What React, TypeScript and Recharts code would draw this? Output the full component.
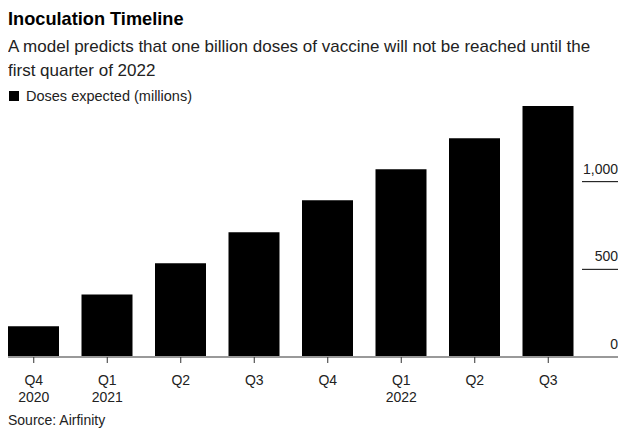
import React from 'react';
import { BarChart, Bar, XAxis, YAxis } from 'recharts';

const quarters = ['Q4', 'Q1', 'Q2', 'Q3', 'Q4', 'Q1', 'Q2', 'Q3'];
const years = ['2020', '2021', '', '', '', '2022', '', ''];
const doses = [175, 357, 535, 712, 894, 1071, 1248, 1431];
const yTicks = [0, 500, 1000];

const data = quarters.map((q, i) => ({ key: `${q}-${i}`, quarter: q, year: years[i], doses: doses[i] }));

const FONT = '"Liberation Sans", Arial, Helvetica, sans-serif';
const AXIS_W = 33;

// two-line quarter / year label
const QuarterTick = (props: any) => {
  const { x, y, payload } = props;
  const row = data[payload.index];
  return (
    <g>
      <text x={x} y={y + 20} textAnchor="middle" fontSize={14} fill="#222" fontFamily={FONT}>
        {row.quarter}
      </text>
      {row.year && (
        <text x={x} y={y + 37} textAnchor="middle" fontSize={14} fill="#222" fontFamily={FONT}>
          {row.year}
        </text>
      )}
    </g>
  );
};

// right-aligned value with a short underline; the zero tick carries the baseline on
const ValueTick = (props: any) => {
  const { x, y, payload } = props;
  const label = Number(payload.value).toLocaleString('en-US');
  return (
    <g>
      <text x={x + AXIS_W} y={y - 8} textAnchor="end" fontSize={14} fill="#222" fontFamily={FONT}>
        {label}
      </text>
      {payload.value === 0 ? (
        <line x1={x - 1} x2={x + AXIS_W} y1={y} y2={y} stroke="#999" strokeWidth={2} />
      ) : (
        <line x1={x - 3} x2={x + AXIS_W} y1={y} y2={y} stroke="#000" strokeWidth={1} />
      )}
    </g>
  );
};

export default function App() {
  return (
    <div style={{ position: 'relative', width: 626, height: 425, fontFamily: FONT, color: '#000' }}>
      <div style={{ position: 'absolute', left: 0, top: 1, fontSize: 18.2, fontWeight: 700, lineHeight: '20px', whiteSpace: 'nowrap' }}>
        Inoculation Timeline
      </div>
      <div style={{ position: 'absolute', left: 0, top: 27, fontSize: 17, lineHeight: '24px', color: '#222', whiteSpace: 'nowrap' }}>
        <div>A model predicts that one billion doses of vaccine will not be reached until the</div>
        <div>first quarter of 2022</div>
      </div>
      <div style={{ position: 'absolute', left: 1, top: 80, fontSize: 14.5, lineHeight: '16px', color: '#222', display: 'flex', alignItems: 'center', whiteSpace: 'nowrap' }}>
        <span style={{ display: 'inline-block', width: 10, height: 10, background: '#000', marginRight: 7 }} />
        Doses expected (millions)
      </div>

      <div style={{ position: 'absolute', left: -11, top: 86 }}>
        <BarChart width={621} height={314} data={data} margin={{ top: 0, right: 0, left: 0, bottom: 0 }} barSize={51}>
          <XAxis
            dataKey="key"
            height={51}
            padding={{ left: 0, right: 0 }}
            axisLine={{ stroke: '#999', strokeWidth: 2 }}
            tickLine={{ stroke: '#333' }}
            tickSize={6}
            interval={0}
            tick={<QuarterTick />}
          />
          <YAxis
            orientation="right"
            width={AXIS_W}
            domain={[0, 1500]}
            ticks={yTicks}
            interval={0}
            axisLine={false}
            tickLine={false}
            tickSize={0}
            tickMargin={0}
            tick={<ValueTick />}
          />
          <Bar dataKey="doses" fill="#000" isAnimationActive={false} />
        </BarChart>
      </div>

      <div style={{ position: 'absolute', left: 0, top: 404, fontSize: 14, lineHeight: '16px', color: '#222', whiteSpace: 'nowrap' }}>
        Source: Airfinity
      </div>
    </div>
  );
}
